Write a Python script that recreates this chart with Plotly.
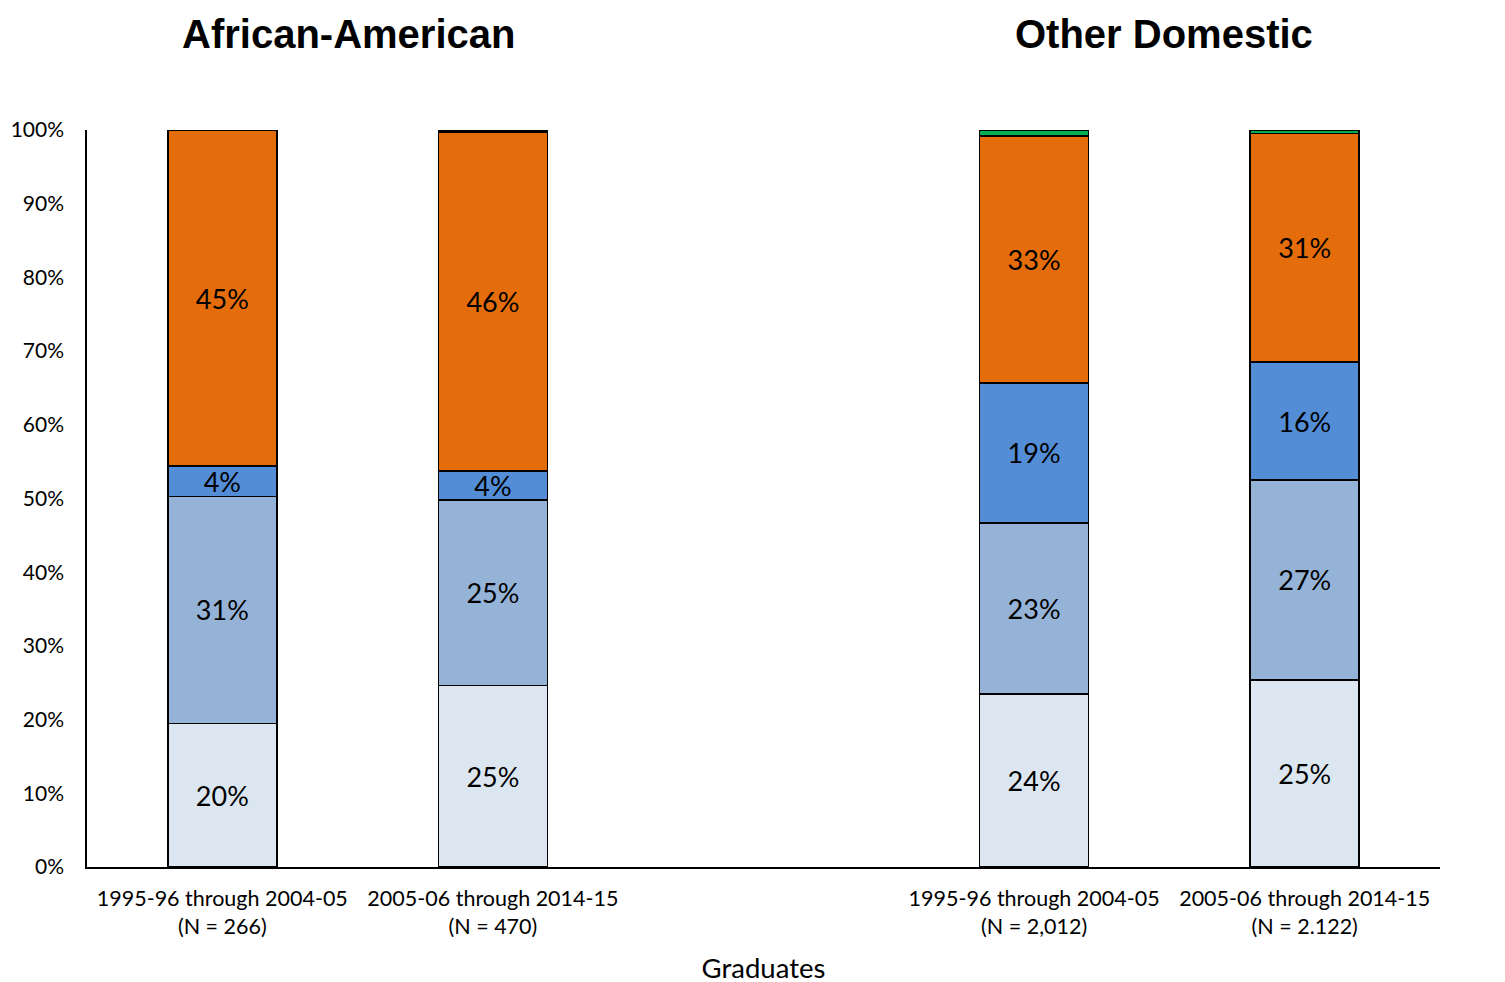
import plotly.graph_objects as go

x_pos = [0, 1, 3, 4]
tick_labels = ["1995-96 through 2004-05<br>(N = 266)", "2005-06 through 2014-15<br>(N = 470)",
               "1995-96 through 2004-05<br>(N = 2,012)", "2005-06 through 2014-15<br>(N = 2.122)"]

seg1 = [0.195, 0.246, 0.235, 0.254]
seg2 = [0.308, 0.252, 0.232, 0.271]
seg3 = [0.041, 0.039, 0.190, 0.160]
seg4 = [0.456, 0.460, 0.335, 0.310]
seg5 = [0.000, 0.003, 0.008, 0.005]

lab1 = ["20%", "25%", "24%", "25%"]
lab2 = ["31%", "25%", "23%", "27%"]
lab3 = ["4%", "4%", "19%", "16%"]
lab4 = ["45%", "46%", "33%", "31%"]

colors = ["#DCE6F1", "#95B3D7", "#538DD5", "#E46C0A", "#00B050"]
FONT = "Lato, Calibri, sans-serif"

fig = go.Figure()
for vals, labs, col in [(seg1, lab1, colors[0]), (seg2, lab2, colors[1]), (seg3, lab3, colors[2]),
                        (seg4, lab4, colors[3]), (seg5, None, colors[4])]:
    fig.add_trace(go.Bar(
        x=x_pos, y=vals, marker=dict(color=col, line=dict(color="black", width=1.5)),
        text=labs, textposition="inside" if labs else "none", insidetextanchor="middle",
        textfont=dict(family=FONT, size=27, color="black"), textangle=0,
        constraintext="none", hoverinfo="y", showlegend=False))

fig.update_layout(
    barmode="stack", bargap=0.597,
    width=1505, height=982,
    margin=dict(l=79, r=73, t=122, b=123),
    plot_bgcolor="white", paper_bgcolor="white",
    xaxis=dict(range=[-0.5, 4.5], tickvals=x_pos, ticktext=tick_labels, showgrid=False,
               showline=True, linecolor="black", linewidth=1.5, ticks="",
               ticklabelstandoff=11, automargin=False,
               tickfont=dict(family=FONT, size=21.5, color="black"),
               title=dict(text="Graduates", font=dict(family=FONT, size=27.5, color="black"), standoff=21),
               zeroline=False),
    yaxis=dict(range=[0, 1], tickformat=".0%", dtick=0.1, showgrid=False, showline=True,
               linecolor="black", linewidth=1.5, ticks="", ticklabelstandoff=17, automargin=False,
               tickfont=dict(family=FONT, size=21, color="black"), zeroline=False),
    annotations=[
        dict(text="<b>African-American</b>", x=0.193, y=1.0, xref="paper", yref="paper", yshift=96,
             xanchor="center", yanchor="middle", showarrow=False,
             font=dict(family="Liberation Sans, Arial", size=40, color="black")),
        dict(text="<b>Other Domestic</b>", x=0.796, y=1.0, xref="paper", yref="paper", yshift=96,
             xanchor="center", yanchor="middle", showarrow=False,
             font=dict(family="Liberation Sans, Arial", size=40, color="black")),
    ],
)

fig.write_html("out.html")
